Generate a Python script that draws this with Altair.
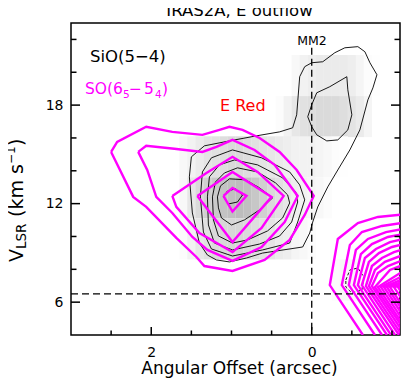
import altair as alt
import pandas as pd

FONT = "DejaVu Sans"

# ---------------- axes ----------------
X_DOMAIN = [3.0, -1.1]          # angular offset (arcsec), reversed
Y_DOMAIN = [4.0, 23.0]          # V_LSR (km/s)
X_LABELS = [2, 0]
Y_LABELS = [18, 12, 6]
X_MAJOR = [2.0, 0.0]
X_MINOR = [2.5, 1.5, 1.0, 0.5, -0.5, -1.0]
Y_MAJOR = [18, 12, 6]
Y_MINOR = [22, 20, 16, 14, 10, 8]
MM2_OFFSET = 0.0
MM2_TOP = 21.5
VSYS = 6.5

# ---------------- SiO(5-4) grey image (velocity channels x offset) ----------------
GRAY_OFFSETS = [1.8, 1.7, 1.6, 1.5, 1.4, 1.3, 1.2, 1.1, 1.0, 0.9, 0.8, 0.7, 0.6, 0.5,
                0.4, 0.3, 0.2, 0.1, 0.0, -0.1, -0.2, -0.3, -0.4, -0.5, -0.6, -0.7, -0.8]
CHANNELS = [19.8, 17.3, 14.85, 12.35, 9.85, 7.35]
CHAN_HALF = 1.25
GRAY_198 = [0, 0, 0, 0, 0, 0, 0, 0, 0, 0, 0, 0, 0, 0, 0, 0, 0.1, 0.2, 0.25, 0.3, 0.3, 0.3, 0.3, 0.25, 0.15, 0.05, 0.02]
GRAY_173 = [0, 0, 0, 0, 0, 0, 0, 0, 0, 0, 0, 0, 0, 0, 0.05, 0.2, 0.35, 0.45, 0.5, 0.55, 0.55, 0.55, 0.5, 0.4, 0.3, 0.15, 0]
GRAY_148 = [0, 0, 0.1, 0.2, 0.3, 0.4, 0.45, 0.5, 0.55, 0.55, 0.5, 0.45, 0.4, 0.35, 0.3, 0.25, 0.2, 0.2, 0.2, 0.15, 0.1, 0.05, 0.02, 0, 0, 0, 0]
GRAY_123 = [0, 0, 0.1, 0.35, 0.55, 0.7, 0.8, 0.9, 0.95, 1.0, 0.95, 0.85, 0.7, 0.55, 0.45, 0.35, 0.25, 0.2, 0.15, 0.1, 0.05, 0, 0, 0, 0, 0, 0]
GRAY_098 = [0, 0, 0.05, 0.2, 0.35, 0.45, 0.55, 0.6, 0.6, 0.6, 0.55, 0.5, 0.45, 0.4, 0.3, 0.25, 0.15, 0.1, 0.05, 0, 0, 0, 0, 0, 0, 0, 0]
GRAY_073 = [0, 0, 0, 0, 0, 0, 0, 0, 0, 0, 0, 0, 0, 0, 0, 0, 0, 0, 0, 0, 0, 0.05, 0.12, 0.12, 0.08, 0.03, 0]
GRAY_ROWS = [GRAY_198, GRAY_173, GRAY_148, GRAY_123, GRAY_098, GRAY_073]

# ---------------- SiO(5-4) black contours: (offset, velocity) ----------------
SIO_1 = [(1.5, 14.85), (1.3375, 15.52), (1.025, 15.82), (0.6875, 16.13), (0.4, 16.37), (0.2375, 16.62),
         (0.1875, 17.41), (0.15, 19.73), (0.0875, 20.34), (0.0, 20.58), (-0.1375, 20.64), (-0.2875, 21.19),
         (-0.4125, 21.49), (-0.575, 21.56), (-0.6625, 21.25), (-0.725, 20.58), (-0.8125, 19.85),
         (-0.7625, 19.05), (-0.7, 18.32), (-0.6, 16.49), (-0.475, 15.27), (-0.325, 14.05), (-0.2, 13.02),
         (-0.075, 11.80), (-0.0125, 10.88), (0.025, 10.21), (0.1125, 9.36), (0.6125, 8.99), (0.8125, 8.69),
         (1.025, 8.45), (1.1875, 8.57), (1.3, 8.87), (1.4, 9.60), (1.4875, 11.43), (1.525, 13.63)]
SIO_2 = [(1.3875, 12.41), (1.3625, 13.93), (1.25, 14.79), (0.9875, 15.27), (0.625, 14.79), (0.275, 13.93),
         (0.15, 13.14), (0.0875, 12.23), (0.175, 10.88), (0.275, 9.60), (0.6125, 9.18), (0.9875, 8.81),
         (1.25, 9.24), (1.35, 10.27)]
SIO_3 = [(1.3, 12.41), (1.275, 13.63), (1.15, 14.36), (0.9625, 14.66), (0.675, 14.36), (0.3625, 13.57),
         (0.2, 12.71), (0.175, 12.10), (0.25, 10.88), (0.4, 10.03), (0.65, 9.54), (0.9875, 9.18),
         (1.2125, 9.60), (1.2875, 10.70)]
SIO_4 = [(1.2375, 12.41), (1.2, 13.32), (1.0875, 13.87), (0.925, 14.18), (0.675, 13.93), (0.45, 13.26),
         (0.3, 12.53), (0.275, 12.04), (0.3625, 11.13), (0.55, 10.34), (0.8, 9.79), (0.9875, 9.60),
         (1.1625, 10.03), (1.225, 11.01)]
SIO_5 = [(1.175, 12.41), (1.1375, 13.08), (1.025, 13.51), (0.825, 13.45), (0.65, 12.96), (0.4875, 12.35),
         (0.65, 11.62), (0.8375, 11.01), (1.0, 10.70), (1.125, 11.13), (1.1625, 11.74)]
SIO_6 = [(1.1, 12.41), (1.05, 12.77), (0.95, 12.90), (0.8625, 12.53), (0.925, 12.10), (1.0375, 11.98)]
SIO_MM2 = [(0.05, 17.29), (0.0, 18.02), (-0.0625, 18.75), (-0.225, 19.12), (-0.4375, 19.73), (-0.45, 18.93),
           (-0.5, 17.41), (-0.45, 16.49), (-0.325, 15.88), (-0.1875, 15.82), (-0.0625, 16.19), (0.0, 16.68)]
SIO_LOW = [(-0.425, 7.35), (-0.475, 7.96), (-0.575, 8.08), (-0.65, 7.53), (-0.625, 6.74), (-0.5, 6.56),
           (-0.425, 6.92)]

# ---------------- SO(6_5-5_4) magenta contours ----------------
SO_1 = [(2.5, 15.15), (2.425, 15.76), (2.0625, 16.68), (1.7375, 16.37), (1.3625, 16.19), (1.15, 16.49),
        (1.025, 16.68), (0.8625, 16.49), (0.65, 16.0), (0.4, 15.15), (0.1875, 14.05), (-0.025, 12.47),
        (0.0875, 11.31), (0.275, 9.79), (0.5875, 8.57), (0.9875, 7.90), (1.3375, 8.20), (1.4375, 8.75),
        (1.6875, 9.91), (2.0625, 11.80), (2.225, 12.41)]
SO_2 = [(2.1625, 15.15), (2.0625, 15.52), (1.7125, 15.34), (1.3625, 15.15), (1.1875, 15.46), (0.9875, 15.88),
        (0.7125, 15.27), (0.4625, 14.36), (0.175, 12.47), (0.3375, 10.88), (0.625, 9.36), (0.9875, 8.51),
        (1.3, 9.18), (1.4875, 9.97), (1.7375, 11.43), (1.9375, 12.41), (2.05, 14.05)]
SO_3 = [(1.7375, 12.47), (1.3125, 13.87), (0.9875, 14.85), (0.675, 13.93), (0.35, 12.47), (0.625, 10.52),
        (0.9875, 9.05), (1.4, 10.21), (1.6875, 11.80)]
SO_4 = [(1.425, 12.47), (0.9875, 13.93), (0.5, 12.41), (0.9875, 9.66)]
SO_5 = [(1.1, 12.47), (0.9875, 12.96), (0.8125, 12.47), (0.9875, 11.52)]

# open contours of the strong emission at the right edge (cut by the frame)
SO_R00 = [(-1.2, 11.37), (-0.825, 11.19), (-0.575, 10.82), (-0.325, 9.85), (-0.225, 7.04), (-0.6375, 4.0)]
SO_R01 = [(-1.2, 10.88), (-0.875, 10.64), (-0.625, 10.27), (-0.475, 9.48), (-0.375, 7.04), (-0.7875, 4.0)]
SO_R02 = [(-1.2, 10.52), (-0.925, 10.27), (-0.7, 9.85), (-0.55, 9.18), (-0.4625, 7.04), (-0.875, 4.0)]
SO_R03 = [(-1.2, 10.21), (-0.95, 9.97), (-0.75, 9.54), (-0.6125, 8.93), (-0.525, 7.04), (-0.9375, 4.0)]
SO_R04 = [(-1.2, 9.91), (-0.975, 9.66), (-0.8, 9.24), (-0.6625, 8.69), (-0.575, 7.04), (-0.9875, 4.0)]
SO_R05 = [(-1.2, 9.60), (-1.0, 9.36), (-0.8375, 8.99), (-0.7125, 8.45), (-0.625, 7.04), (-1.0375, 4.0)]
SO_R06 = [(-1.2, 9.30), (-1.025, 9.05), (-0.875, 8.69), (-0.75, 8.20), (-0.675, 6.98), (-1.0875, 4.0)]
SO_R07 = [(-1.2, 8.99), (-0.9125, 8.45), (-0.7875, 7.96), (-0.7125, 6.98), (-1.125, 4.0)]
SO_R08 = [(-1.2, 8.69), (-0.95, 8.20), (-0.825, 7.77), (-0.75, 6.98), (-1.1625, 4.0)]
SO_R09 = [(-1.2, 8.38), (-0.975, 7.96), (-0.7875, 6.92), (-1.2, 4.0)]
SO_R10 = [(-1.2, 8.08), (-0.825, 6.92), (-1.2, 4.18)]
SO_R11 = [(-1.2, 7.77), (-0.8625, 6.92), (-1.2, 4.42)]
SO_R12 = [(-1.2, 7.53), (-0.9, 6.92), (-1.2, 4.73)]
SO_R13 = [(-1.2, 7.35), (-0.9375, 6.92), (-1.2, 5.03)]
SO_R14 = [(-1.2, 7.23), (-0.975, 6.92), (-1.2, 5.27)]
SO_R15 = [(-1.2, 7.10), (-1.025, 6.92), (-1.2, 5.64)]
SO_R16 = [(-1.2, 7.04), (-1.075, 6.92), (-1.2, 6.0)]

# ---------------- build tables ----------------
def contour_table(named, close):
    rows = []
    for name, pts in named:
        p = list(pts) + ([pts[0]] if close else [])
        for i, (o, v) in enumerate(p):
            rows.append({"name": name, "i": i, "off": o, "vel": v})
    return pd.DataFrame(rows)

sio_df = contour_table([("s1", SIO_1), ("s2", SIO_2), ("s3", SIO_3), ("s4", SIO_4), ("s5", SIO_5),
                        ("s6", SIO_6), ("smm2", SIO_MM2)], True)
sio_low_df = contour_table([("slow", SIO_LOW)], True)
so_closed_df = contour_table([("m1", SO_1), ("m2", SO_2), ("m3", SO_3), ("m4", SO_4), ("m5", SO_5)], True)
so_open_df = contour_table([("r%02d" % k, c) for k, c in enumerate(
    [SO_R00, SO_R01, SO_R02, SO_R03, SO_R04, SO_R05, SO_R06, SO_R07, SO_R08,
     SO_R09, SO_R10, SO_R11, SO_R12, SO_R13, SO_R14, SO_R15, SO_R16])], False)

gray_rows = []
for vc, row in zip(CHANNELS, GRAY_ROWS):
    for o, val in zip(GRAY_OFFSETS, row):
        if val > 0:
            gray_rows.append({"x0": o + 0.051, "x1": o - 0.051, "y0": vc - CHAN_HALF, "y1": vc + CHAN_HALF, "v": val})
gray_df = pd.DataFrame(gray_rows)

W, H = 329, 312
XS = alt.Scale(domain=X_DOMAIN, nice=False, zero=False)
YS = alt.Scale(domain=Y_DOMAIN, nice=False, zero=False)
XA = alt.Axis(values=X_LABELS, ticks=False, domain=False, grid=False, title=None, format="d",
              labelFont=FONT, labelFontSize=14, labelColor="black", labelPadding=10)
YA = alt.Axis(values=Y_LABELS, ticks=False, domain=False, grid=False, title=None, format="d",
              labelFont=FONT, labelFontSize=14, labelColor="black", labelPadding=8)


def X(f):
    return alt.X(f, type="quantitative", scale=XS, axis=XA)


def Y(f):
    return alt.Y(f, type="quantitative", scale=YS, axis=YA)


gray = alt.Chart(gray_df).mark_rect(strokeWidth=0).encode(
    x=X("x0"), x2="x1", y=Y("y0"), y2="y1",
    color=alt.Color("v:Q", scale=alt.Scale(domain=[0, 1], range=["#ffffff", "#bdbdbd"]), legend=None))

sio = alt.Chart(sio_df).mark_line(color="black", strokeWidth=0.9, clip=True).encode(
    x=X("off"), y=Y("vel"), detail="name:N", order="i:Q")
sio_low = alt.Chart(sio_low_df).mark_line(color="black", strokeWidth=0.9, strokeDash=[3, 2], clip=True).encode(
    x=X("off"), y=Y("vel"), detail="name:N", order="i:Q")
so_c = alt.Chart(so_closed_df).mark_line(color="#ff00ff", strokeWidth=2.4, clip=True).encode(
    x=X("off"), y=Y("vel"), detail="name:N", order="i:Q")
so_o = alt.Chart(so_open_df).mark_line(color="#ff00ff", strokeWidth=2.4, clip=True).encode(
    x=X("off"), y=Y("vel"), detail="name:N", order="i:Q")

one = pd.DataFrame({"a": [0]})
vdash = alt.Chart(pd.DataFrame({"off": [MM2_OFFSET], "v1": [MM2_TOP], "v2": [Y_DOMAIN[0]]})).mark_rule(
    color="black", strokeWidth=1.3, strokeDash=[7, 4]).encode(x=X("off"), y=Y("v1"), y2="v2")
hdash = alt.Chart(pd.DataFrame({"vel": [VSYS], "o1": [X_DOMAIN[0]], "o2": [X_DOMAIN[1]]})).mark_rule(
    color="black", strokeWidth=1.3, strokeDash=[7, 4]).encode(y=Y("vel"), x=X("o1"), x2="o2")

def xticks(vals, ln):
    return alt.Chart(pd.DataFrame({"off": vals})).mark_rule(color="black", strokeWidth=1.5).encode(
        x=X("off"), y=alt.value(H), y2=alt.value(H - ln))

def yticks(vals, ln, right=False):
    x0 = W if right else 0
    x1 = W - ln if right else ln
    return alt.Chart(pd.DataFrame({"vel": vals})).mark_rule(color="black", strokeWidth=1.5).encode(
        y=Y("vel"), x=alt.value(x0), x2=alt.value(x1))

ticks = [xticks(X_MAJOR, 8), xticks(X_MINOR, 4.5), yticks(Y_MAJOR, 9), yticks(Y_MINOR, 5.5),
         yticks(Y_MAJOR, 9, True), yticks(Y_MINOR, 5.5, True)]


def txt(s, x, y, size, color="black", angle=0, align="left", baseline="alphabetic"):
    return alt.Chart(one).mark_text(text=s, font=FONT, fontSize=size, color=color, angle=angle,
                                    align=align, baseline=baseline).encode(x=alt.value(x), y=alt.value(y))

MAG = "#ff00ff"
texts = [
    txt("IRAS2A, E outflow", 168.5, -7, 16.5, align="center"),
    txt("Angular Offset (arcsec)", 168.5, 351, 17, align="center"),
    txt("SiO(5\u22124)", 19, 39, 16.5),
    txt("SO(6", 14, 71, 15.5, color=MAG),
    txt("5", 52, 75, 10.5, color=MAG),
    txt("\u2212", 58, 71, 15.5, color=MAG),
    txt("5", 73, 71, 15.5, color=MAG),
    txt("4", 84, 75, 10.5, color=MAG),
    txt(")", 91, 71, 15.5, color=MAG),
    txt("E Red", 149, 88, 16, color="red"),
    txt("MM2", 241, 22, 12.5, align="center"),
    # rotated y title: V_LSR (km s^-1)
    txt("V", -54, 239, 19, angle=270, baseline="middle"),
    txt("LSR", -49, 226, 13.5, angle=270, baseline="middle"),
    txt("(km s", -54, 194, 19, angle=270, baseline="middle"),
    txt("\u22121", -60, 141, 12, angle=270, baseline="middle"),
    txt(")", -54, 123, 19, angle=270, baseline="middle"),
]

chart = alt.layer(gray, sio, sio_low, so_c, so_o, vdash, hdash, *ticks, *texts).properties(
    width=W, height=H,
    autosize=alt.AutoSizeParams(type="none"),
    padding={"left": 63, "top": 15, "right": 1, "bottom": 43},
).configure_view(stroke="black", strokeWidth=1.5)

chart.save("out.html", embed_options={"renderer": "svg", "actions": False})
